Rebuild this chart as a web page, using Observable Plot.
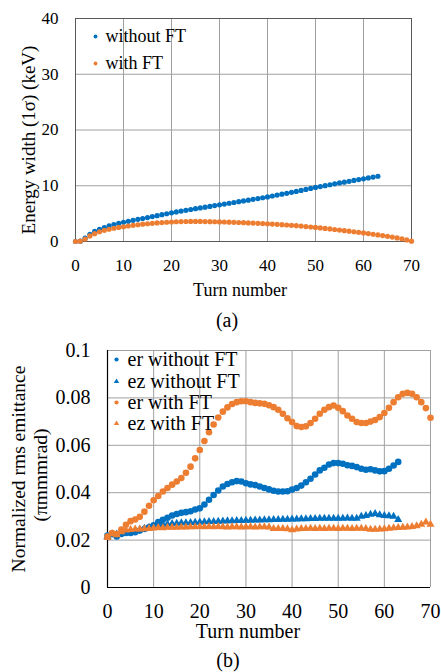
<!DOCTYPE html>
<html>
<head>
<meta charset="utf-8">
<script src="https://cdn.jsdelivr.net/npm/d3@7"></script>
<script src="https://cdn.jsdelivr.net/npm/@observablehq/plot@0.6"></script>
<style>
  html, body { margin: 0; padding: 0; background: #fff; }
  #wrap { position: relative; width: 441px; height: 672px; overflow: hidden; font-family: "Liberation Serif", "Times New Roman", serif; color: #000; }
  #wrap svg, #wrap svg text { font-family: "Liberation Serif", "Times New Roman", serif !important; }
  .panel { position: absolute; left: 0; }
  .lbl { position: absolute; white-space: nowrap; transform: translate(-50%, -50%); line-height: 1; }
  .rot { transform: translate(-50%, -50%) rotate(-90deg); }
</style>
</head>
<body>
<div id="wrap">
  <div id="pa" class="panel" style="top:0px"></div>
  <div id="pb" class="panel" style="top:330px"></div>
  <div class="lbl rot" style="left:28px; top:140px; font-size:19px">Energy width (1σ) (keV)</div>
  <div class="lbl" style="left:240px; top:290px; font-size:18px">Turn number</div>
  <div class="lbl" style="left:227px; top:320px; font-size:20px">(a)</div>
  <div class="lbl rot" style="left:19px; top:469px; font-size:19.5px">Normalized rms emittance</div>
  <div class="lbl rot" style="left:41px; top:475px; font-size:19.5px">(πmmmrad)</div>
  <div class="lbl" style="left:248px; top:631px; font-size:20px">Turn number</div>
  <div class="lbl" style="left:228px; top:660px; font-size:20px">(b)</div>
</div>
<script>
// ---------- Data ----------
const xTicks = [0, 10, 20, 30, 40, 50, 60, 70];
const yTicksA = [0, 10, 20, 30, 40];
const yTicksB = [0, 0.02, 0.04, 0.06, 0.08, 0.1];

const seriesNamesA = ["without FT", "with FT"];
const seriesNamesB = ["er without FT", "ez without FT", "er with FT", "ez with FT"];

// Energy width (keV), turn 0..63
const energyWithoutFT = [0, 0.05, 0.6, 1.3, 1.8, 2.2, 2.5, 2.8, 3.05, 3.25,
  3.45, 3.62, 3.8, 3.97, 4.13, 4.3, 4.47, 4.64, 4.81, 4.98,
  5.15, 5.3, 5.45, 5.6, 5.74, 5.88, 6.02, 6.16, 6.3, 6.44,
  6.58, 6.72, 6.86, 7.0, 7.14, 7.28, 7.42, 7.56, 7.7, 7.85,
  8.0, 8.16, 8.32, 8.48, 8.65, 8.82, 8.99, 9.16, 9.34, 9.52,
  9.7, 9.86, 10.02, 10.18, 10.34, 10.5, 10.65, 10.8, 10.95, 11.1,
  11.25, 11.4, 11.55, 11.7];
// Energy width (keV), turn 0..70
const energyWithFT = [0, 0.05, 0.45, 1.0, 1.4, 1.75, 2.0, 2.2, 2.38, 2.52,
  2.65, 2.78, 2.9, 3.0, 3.1, 3.18, 3.26, 3.33, 3.4, 3.45,
  3.5, 3.54, 3.57, 3.59, 3.6, 3.6, 3.6, 3.58, 3.56, 3.54,
  3.52, 3.5, 3.47, 3.44, 3.41, 3.38, 3.34, 3.3, 3.26, 3.22,
  3.18, 3.13, 3.08, 3.02, 2.96, 2.9, 2.83, 2.76, 2.68, 2.6,
  2.52, 2.43, 2.34, 2.25, 2.15, 2.05, 1.95, 1.85, 1.75, 1.64,
  1.53, 1.42, 1.3, 1.18, 1.06, 0.93, 0.8, 0.65, 0.48, 0.28, 0.05];

// Normalized rms emittance, turn 0..63
const erWithoutFT = [0.0219, 0.0226, 0.0215, 0.0226, 0.0230, 0.0230, 0.0233, 0.0240, 0.0247, 0.0254,
  0.0262, 0.0276, 0.0286, 0.0294, 0.0304, 0.0310, 0.0315, 0.0318, 0.0322, 0.0329,
  0.0334, 0.0350, 0.0370, 0.0390, 0.0409, 0.0426, 0.0437, 0.0444, 0.0449, 0.0447,
  0.0440, 0.0435, 0.0432, 0.0426, 0.0420, 0.0414, 0.0408, 0.0405, 0.0405, 0.0406,
  0.0413, 0.0420, 0.0430, 0.0444, 0.0459, 0.0477, 0.0494, 0.0505, 0.0519, 0.0525,
  0.0525, 0.0522, 0.0516, 0.0513, 0.0508, 0.0501, 0.0497, 0.0499, 0.0494, 0.0490,
  0.0491, 0.0501, 0.0515, 0.0530];
const ezWithoutFT = [0.0215, 0.0222, 0.0225, 0.0228, 0.0232, 0.0236, 0.0240, 0.0244, 0.0249, 0.0254,
  0.0258, 0.0262, 0.0265, 0.0267, 0.0269, 0.0270, 0.0272, 0.0273, 0.0274, 0.0275,
  0.0276, 0.0277, 0.0278, 0.0278, 0.0279, 0.0280, 0.0281, 0.0281, 0.0282, 0.0282,
  0.0283, 0.0283, 0.0284, 0.0284, 0.0285, 0.0285, 0.0286, 0.0286, 0.0287, 0.0287,
  0.0288, 0.0288, 0.0289, 0.0289, 0.0290, 0.0290, 0.0291, 0.0291, 0.0291, 0.0292,
  0.0292, 0.0292, 0.0293, 0.0292, 0.0292, 0.0300, 0.0303, 0.0308, 0.0312, 0.0306,
  0.0303, 0.0302, 0.0300, 0.0286];
// Normalized rms emittance, turn 0..70
const erWithFT = [0.0215, 0.0230, 0.0226, 0.0245, 0.0265, 0.0280, 0.0287, 0.0298, 0.0320, 0.0345,
  0.0368, 0.0386, 0.0405, 0.0420, 0.0434, 0.0447, 0.0462, 0.0484, 0.0510, 0.0545,
  0.0580, 0.0618, 0.0655, 0.0688, 0.0717, 0.0742, 0.0760, 0.0774, 0.0782, 0.0786,
  0.0786, 0.0782, 0.0779, 0.0777, 0.0775, 0.0769, 0.0761, 0.0750, 0.0733, 0.0714,
  0.0698, 0.0681, 0.0677, 0.0680, 0.0694, 0.0712, 0.0733, 0.0750, 0.0761, 0.0768,
  0.0758, 0.0744, 0.0726, 0.0712, 0.0698, 0.0694, 0.0694, 0.0700, 0.0707, 0.0719,
  0.0736, 0.0758, 0.0782, 0.0803, 0.0817, 0.0821, 0.0817, 0.0803, 0.0782, 0.0757, 0.0716];
const ezWithFT = [0.0210, 0.0226, 0.0222, 0.0235, 0.0242, 0.0244, 0.0246, 0.0246, 0.0247, 0.0248,
  0.0250, 0.0252, 0.0251, 0.0253, 0.0254, 0.0254, 0.0255, 0.0255, 0.0256, 0.0256,
  0.0257, 0.0256, 0.0257, 0.0256, 0.0257, 0.0256, 0.0255, 0.0256, 0.0256, 0.0255,
  0.0256, 0.0256, 0.0255, 0.0256, 0.0256, 0.0255, 0.0248, 0.0248, 0.0248, 0.0247,
  0.0243, 0.0246, 0.0248, 0.0248, 0.0249, 0.0248, 0.0249, 0.0248, 0.0249, 0.0249,
  0.0248, 0.0249, 0.0249, 0.0248, 0.0249, 0.0249, 0.0248, 0.0245, 0.0245, 0.0246,
  0.0247, 0.0249, 0.0251, 0.0252, 0.0254, 0.0255, 0.0257, 0.0260, 0.0266, 0.0276, 0.0266];

// ---------- Styling ----------
const BLUE = "#0070C0";
const ORANGE = "#ED7D31";
const GRID = "#a0a0a0";
const FONT = "'Liberation Serif', 'Times New Roman', serif";

const toRows = (arr, name) => arr.map((v, i) => ({turn: i, value: v, series: name}));

// ---------- Panel (a) ----------
const rowsA0 = toRows(energyWithoutFT, seriesNamesA[0]);
const rowsA1 = toRows(energyWithFT, seriesNamesA[1]);
const legendA = [
  {name: seriesNamesA[0], color: BLUE, dy: 18},
  {name: seriesNamesA[1], color: ORANGE, dy: 45}
];

const chartA = Plot.plot({
  width: 441, height: 300,
  marginLeft: 75, marginRight: 30, marginTop: 18, marginBottom: 59,
  style: {fontFamily: FONT, fontSize: "17px", color: "#000", background: "transparent", overflow: "visible"},
  x: {domain: [0, 70], ticks: xTicks, label: null, tickSize: 0, tickPadding: 17},
  y: {domain: [0, 40], ticks: yTicksA, label: null, tickSize: 0, tickPadding: 17},
  marks: [
    Plot.gridX(xTicks, {stroke: GRID, strokeOpacity: 1}),
    Plot.gridY(yTicksA, {stroke: GRID, strokeOpacity: 1}),
    Plot.frame({stroke: "#595959"}),
    Plot.dot(rowsA0, {x: "turn", y: "value", r: 2.6, fill: BLUE}),
    Plot.dot(rowsA1, {x: "turn", y: "value", r: 2.6, fill: ORANGE}),
    ...legendA.map(l => Plot.dot([l], {frameAnchor: "top-left", dx: 20, dy: l.dy, fill: l.color, r: 1.9})),
    ...legendA.map(l => Plot.text([l], {text: "name", frameAnchor: "top-left", dx: 30, dy: l.dy, textAnchor: "start", lineAnchor: "middle", fontSize: 18, fontFamily: FONT}))
  ]
});
document.getElementById("pa").appendChild(chartA);

// ---------- Panel (b) ----------
const rowsB = [
  {rows: toRows(erWithoutFT, seriesNamesB[0]), color: BLUE, symbol: "circle", r: 3.3},
  {rows: toRows(ezWithoutFT, seriesNamesB[1]), color: BLUE, symbol: "triangle", r: 3.0},
  {rows: toRows(erWithFT, seriesNamesB[2]), color: ORANGE, symbol: "circle", r: 3.3},
  {rows: toRows(ezWithFT, seriesNamesB[3]), color: ORANGE, symbol: "triangle", r: 3.0}
];
const legendDy = [9, 31, 52, 73];

const chartB = Plot.plot({
  width: 441, height: 300,
  marginLeft: 107, marginRight: 11, marginTop: 20, marginBottom: 43,
  style: {fontFamily: FONT, fontSize: "20px", color: "#000", background: "transparent", overflow: "visible"},
  x: {domain: [0, 70], ticks: xTicks, label: null, tickSize: 0, tickPadding: 16},
  y: {domain: [0, 0.1], ticks: yTicksB, label: null, tickSize: 0, tickPadding: 17,
      tickFormat: d => String(+d.toFixed(2))},
  marks: [
    Plot.gridX(xTicks, {stroke: GRID, strokeOpacity: 1}),
    Plot.gridY(yTicksB, {stroke: GRID, strokeOpacity: 1}),
    Plot.ruleX([0], {stroke: "#000", strokeWidth: 1.2}),
    Plot.ruleY([0], {stroke: "#000", strokeWidth: 1.2}),
    ...rowsB.map(s => Plot.dot(s.rows, {x: "turn", y: "value", r: s.r, fill: s.color, symbol: s.symbol})),
    ...rowsB.map((s, i) => Plot.dot([s], {frameAnchor: "top-left", dx: 9, dy: legendDy[i], fill: s.color, symbol: s.symbol, r: s.symbol === "circle" ? 2.1 : 2.0})),
    ...seriesNamesB.map((n, i) => Plot.text([n], {text: d => d, frameAnchor: "top-left", dx: 20, dy: legendDy[i], textAnchor: "start", lineAnchor: "middle", fontSize: 20, fontFamily: FONT}))
  ]
});
document.getElementById("pb").appendChild(chartB);
</script>
</body>
</html>
